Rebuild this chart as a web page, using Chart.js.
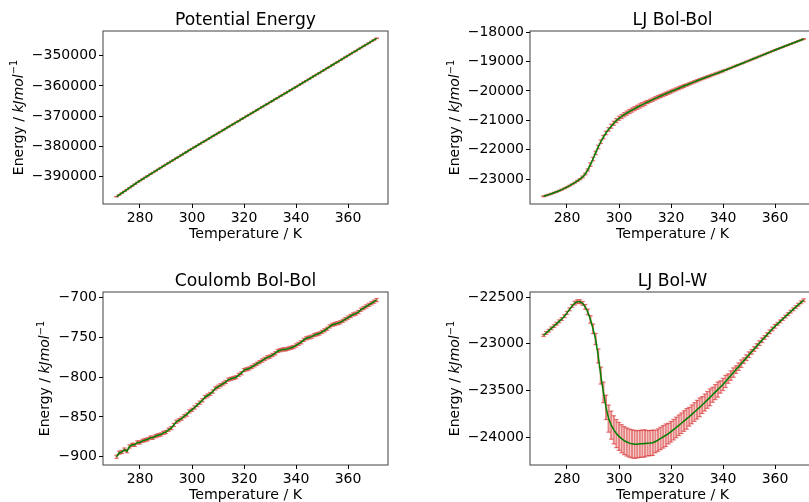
<!DOCTYPE html>
<html>
<head>
<meta charset="utf-8">
<script src="https://cdn.jsdelivr.net/npm/chart.js@4"></script>
<style>
  html, body { margin: 0; padding: 0; width: 809px; height: 502px; overflow: hidden; background: #fff; }
  canvas { position: absolute; }
</style>
</head>
<body>
<canvas id="peChart" width="400" height="250" style="left:0px;top:0px"></canvas>
<canvas id="ljbbChart" width="400" height="250" style="left:427px;top:0px"></canvas>
<canvas id="coulChart" width="400" height="250" style="left:0px;top:261px"></canvas>
<canvas id="ljbwChart" width="400" height="250" style="left:427px;top:261px"></canvas>
<script>
// Temperatures (K)
const temps = [
  271, 272, 273, 274, 275, 276, 277, 278, 279, 280,
  281, 282, 283, 284, 285, 286, 287, 288, 289, 290,
  291, 292, 293, 294, 295, 296, 297, 298, 299, 300,
  301, 302, 303, 304, 305, 306, 307, 308, 309, 310,
  311, 312, 313, 314, 315, 316, 317, 318, 319, 320,
  321, 322, 323, 324, 325, 326, 327, 328, 329, 330,
  331, 332, 333, 334, 335, 336, 337, 338, 339, 340,
  341, 342, 343, 344, 345, 346, 347, 348, 349, 350,
  351, 352, 353, 354, 355, 356, 357, 358, 359, 360,
  361, 362, 363, 364, 365, 366, 367, 368, 369, 370, 371
];

// Potential Energy
const peMean = [
  -396600, -396010, -395420, -394830, -394240, -393650, -393060, -392470, -391880, -391300,
  -390770, -390230, -389700, -389160, -388630, -388090, -387560, -387020, -386490, -385950,
  -385430, -384900, -384380, -383850, -383330, -382800, -382280, -381750, -381230, -380700,
  -380190, -379680, -379170, -378660, -378150, -377640, -377130, -376620, -376110, -375600,
  -375090, -374580, -374070, -373560, -373050, -372540, -372030, -371520, -371010, -370500,
  -369990, -369480, -368970, -368460, -367950, -367440, -366930, -366420, -365910, -365400,
  -364890, -364380, -363870, -363360, -362850, -362340, -361830, -361320, -360810, -360300,
  -359790, -359270, -358760, -358240, -357730, -357210, -356700, -356180, -355670, -355150,
  -354630, -354110, -353590, -353070, -352550, -352030, -351510, -350990, -350470, -349950,
  -349430, -348910, -348400, -347880, -347360, -346840, -346320, -345810, -345290, -344770, -344250
];
const peErr = [
  50, 50, 50, 50, 50, 50, 50, 50, 50, 50,
  50, 50, 50, 50, 50, 50, 50, 50, 50, 50,
  50, 50, 50, 50, 50, 50, 50, 50, 50, 50,
  50, 50, 50, 50, 50, 50, 50, 50, 50, 50,
  50, 50, 50, 50, 50, 50, 50, 50, 50, 50,
  50, 50, 50, 50, 50, 50, 50, 50, 50, 50,
  50, 50, 50, 50, 50, 50, 50, 50, 50, 50,
  50, 50, 50, 50, 50, 50, 50, 50, 50, 50,
  50, 50, 50, 50, 50, 50, 50, 50, 50, 50,
  50, 50, 50, 50, 50, 50, 50, 50, 50, 50, 50
];

// LJ Bol-Bol
const ljbbMean = [
  -23590, -23562, -23533, -23502, -23470, -23436, -23400, -23362, -23320, -23275,
  -23228, -23178, -23124, -23066, -23005, -22930, -22830, -22690, -22510, -22320,
  -22110, -21910, -21730, -21570, -21430, -21310, -21200, -21100, -21010, -20930,
  -20870, -20810, -20755, -20700, -20650, -20602, -20556, -20510, -20465, -20420,
  -20377, -20335, -20294, -20252, -20210, -20172, -20134, -20096, -20058, -20020,
  -19982, -19944, -19906, -19868, -19832, -19796, -19760, -19724, -19688, -19652,
  -19618, -19584, -19550, -19516, -19484, -19452, -19418, -19386, -19352, -19320,
  -19284, -19249, -19213, -19178, -19142, -19107, -19071, -19036, -19000, -18965,
  -18929, -18893, -18857, -18821, -18785, -18749, -18713, -18677, -18640, -18604,
  -18570, -18536, -18502, -18468, -18434, -18400, -18366, -18332, -18298, -18264, -18230
];
const ljbbErr = [
  15, 15, 15, 15, 15, 15, 15, 15, 15, 15,
  15, 15, 15, 20, 20, 30, 30, 35, 60, 60,
  60, 60, 60, 60, 60, 60, 70, 70, 70, 70,
  70, 70, 70, 70, 70, 70, 70, 70, 70, 70,
  55, 55, 55, 55, 55, 55, 55, 55, 55, 55,
  50, 50, 50, 50, 50, 40, 40, 40, 40, 40,
  35, 35, 35, 35, 35, 30, 30, 30, 30, 30,
  20, 20, 20, 20, 20, 15, 15, 15, 15, 15,
  15, 15, 15, 15, 15, 15, 15, 15, 15, 15,
  15, 15, 15, 15, 15, 15, 15, 15, 15, 15, 15
];

// Coulomb Bol-Bol
const coulMean = [
  -900, -895, -894, -891, -893, -887, -885, -885, -882, -882,
  -880, -879, -878, -876, -876, -874, -873, -872, -870, -869,
  -866, -864, -860, -856, -854, -852, -849, -847, -843, -841,
  -838, -835, -832, -829, -825, -823, -821, -818, -814, -812,
  -810, -808, -806, -803, -802, -801, -800, -797, -795, -791,
  -790, -789, -787, -785, -783, -781, -779, -777, -775, -774,
  -772, -770, -767, -766, -765, -765, -764, -763, -762, -760,
  -758, -756, -753, -751, -750, -749, -747, -746, -745, -743,
  -741, -739, -736, -734, -733, -732, -731, -729, -727, -725,
  -723, -721, -720, -718, -715, -713, -711, -709, -707, -705, -703
];
const coulErr = [
  2, 2, 2, 2, 2, 2, 2, 2, 2, 2,
  2, 2, 2, 2, 2, 2, 2, 2, 2, 2,
  2, 2, 2, 2, 2, 2, 2, 2, 2, 2,
  2, 2, 2, 2, 2, 2, 2, 2, 2, 2,
  2, 2, 2, 2, 2, 2, 2, 2, 2, 2,
  2, 2, 2, 2, 2, 2, 2, 2, 2, 2,
  2, 2, 2, 2, 2, 2, 2, 2, 2, 2,
  2, 2, 2, 2, 2, 2, 2, 2, 2, 2,
  2, 2, 2, 2, 2, 2, 2, 2, 2, 2,
  2, 2, 2, 2, 2, 2, 2, 2, 2, 2, 2
];

// LJ Bol-W
const ljbwMean = [
  -22910, -22885, -22860, -22835, -22810, -22785, -22760, -22735, -22705, -22670,
  -22632, -22595, -22565, -22550, -22550, -22568, -22605, -22660, -22740, -22840,
  -22950, -23130, -23340, -23520, -23680, -23800, -23870, -23920, -23960, -23990,
  -24015, -24035, -24050, -24062, -24070, -24075, -24075, -24070, -24068, -24065,
  -24063, -24062, -24058, -24045, -24030, -24012, -23995, -23978, -23960, -23940,
  -23918, -23895, -23872, -23850, -23826, -23803, -23780, -23755, -23730, -23705,
  -23680, -23655, -23628, -23600, -23573, -23545, -23517, -23490, -23462, -23435,
  -23403, -23372, -23340, -23308, -23276, -23245, -23213, -23181, -23149, -23117,
  -23086, -23055, -23024, -22993, -22962, -22932, -22902, -22872, -22842, -22813,
  -22787, -22761, -22735, -22709, -22683, -22657, -22632, -22607, -22582, -22557, -22535
];
const ljbwErr = [
  12, 15, 15, 15, 15, 15, 15, 15, 15, 15,
  15, 15, 20, 20, 20, 20, 25, 30, 40, 50,
  60, 75, 90, 110, 130, 145, 150, 150, 150, 150,
  150, 150, 150, 150, 150, 150, 145, 145, 145, 145,
  135, 135, 135, 120, 120, 120, 120, 120, 110, 110,
  110, 110, 110, 110, 110, 110, 100, 100, 100, 100,
  100, 90, 90, 90, 90, 80, 80, 80, 65, 65,
  65, 50, 50, 50, 40, 40, 40, 30, 30, 30,
  25, 25, 25, 25, 25, 20, 20, 20, 20, 20,
  15, 15, 15, 15, 15, 15, 15, 15, 15, 15, 15
];

// Tick labels
const xTicks = [280, 300, 320, 340, 360];
const peTicks = [-390000, -380000, -370000, -360000, -350000];
const ljbbTicks = [-23000, -22000, -21000, -20000, -19000, -18000];
const coulTicks = [-900, -850, -800, -750, -700];
const ljbwTicks = [-24000, -23500, -23000, -22500];

const FONT = '"DejaVu Sans", sans-serif';
const errColor = 'rgba(215, 50, 50, 0.6)';

// Draws the full box around the plot area
const framePlugin = {
  id: 'frame',
  afterDatasetsDraw(chart) {
    const { ctx, chartArea } = chart;
    ctx.save();
    ctx.strokeStyle = 'rgba(0, 0, 0, 0.75)';
    ctx.lineWidth = 1;
    ctx.strokeRect(chartArea.left, chartArea.top, chartArea.right - chartArea.left, chartArea.bottom - chartArea.top);
    ctx.restore();
  }
};

// Y axis label with italic unit and superscript
const yLabelPlugin = {
  id: 'ylab',
  afterDraw(chart, args, opts) {
    const { ctx, chartArea } = chart;
    const cy = (chartArea.top + chartArea.bottom) / 2;
    const parts = [
      { t: 'Energy / ', f: '14px ' + FONT, dy: 0 },
      { t: 'kJmol', f: 'italic 14px ' + FONT, dy: 0 },
      { t: '\u22121', f: '9.8px ' + FONT, dy: -5.5 }
    ];
    ctx.save();
    ctx.translate(opts.x, cy);
    ctx.rotate(-Math.PI / 2);
    let total = 0;
    parts.forEach((p) => {
      ctx.font = p.f;
      p.w = ctx.measureText(p.t).width;
      total += p.w;
    });
    let x = -total / 2;
    ctx.fillStyle = '#000';
    ctx.textBaseline = 'alphabetic';
    parts.forEach((p) => {
      ctx.font = p.f;
      ctx.fillText(p.t, x, p.dy);
      x += p.w;
    });
    ctx.restore();
  }
};

function makeChart(id, title, mean, err, yTicks, yMin, yMax, labelX) {
  const line = temps.map((t, i) => ({ x: t, y: mean[i] }));
  const bars = temps.map((t, i) => ({ x: t, y: [mean[i] - err[i], mean[i] + err[i]] }));
  const caps = [];
  temps.forEach((t, i) => {
    caps.push({ x: t, y: mean[i] - err[i] });
    caps.push({ x: t, y: mean[i] + err[i] });
  });

  return new Chart(document.getElementById(id), {
    type: 'line',
    data: {
      datasets: [
        {
          type: 'line',
          data: line,
          borderColor: '#008000',
          borderWidth: 1.5,
          pointRadius: 0,
          fill: false,
          order: 0,
        },
        {
          type: 'scatter',
          data: caps,
          pointStyle: 'line',
          pointRadius: 2.3,
          borderColor: errColor,
          borderWidth: 1.2,
          order: 1,
        },
        {
          type: 'bar',
          data: bars,
          backgroundColor: errColor,
          borderWidth: 0,
          barThickness: 1.4,
          order: 2,
        },
      ],
    },
    options: {
      responsive: false,
      animation: false,
      events: [],
      layout: { padding: { left: 0, right: 12, top: 0, bottom: 0 } },
      plugins: {
        legend: { display: false },
        tooltip: { enabled: false },
        title: {
          display: true,
          text: title,
          fullSize: false,
          color: '#000',
          font: { family: FONT, size: 17.2, weight: 'normal', lineHeight: 1.2 },
          padding: { top: 10.3, bottom: 0.06 },
        },
        ylab: { x: labelX },
      },
      scales: {
        x: {
          type: 'linear',
          min: 265.77,
          max: 375.38,
          offset: false,
          afterBuildTicks: (scale) => { scale.ticks = xTicks.map((v) => ({ value: v })); },
          afterFit: (scale) => { scale.height = 46; },
          grid: { drawOnChartArea: false, drawTicks: true, tickLength: 4, color: '#000', offset: false },
          border: { display: false },
          ticks: {
            color: '#000',
            padding: 2,
            maxRotation: 0,
            font: { family: FONT, size: 14 },
            callback: (v) => String(v),
          },
          title: {
            display: true,
            text: 'Temperature / K',
            color: '#000',
            font: { family: FONT, size: 14.2 },
            padding: { top: 0, bottom: 7 },
          },
        },
        y: {
          type: 'linear',
          min: yMin,
          max: yMax,
          afterBuildTicks: (scale) => { scale.ticks = yTicks.map((v) => ({ value: v })); },
          afterFit: (scale) => { scale.width = 103; },
          grid: { drawOnChartArea: false, drawTicks: true, tickLength: 4, color: '#000' },
          border: { display: false },
          ticks: {
            color: '#000',
            padding: 2,
            font: { family: FONT, size: 14 },
            callback: (v) => String(v).replace('-', '\u2212'),
          },
        },
      },
    },
    plugins: [framePlugin, yLabelPlugin],
  });
}

makeChart('peChart', 'Potential Energy', peMean, peErr, peTicks, -399025, -341835, 22.7);
makeChart('ljbbChart', 'LJ Bol-Bol', ljbbMean, ljbbErr, ljbbTicks, -23852, -17956, 32.3);
makeChart('coulChart', 'Coulomb Bol-Bol', coulMean, coulErr, coulTicks, -910.4, -692.8, 49.3);
makeChart('ljbwChart', 'LJ Bol-W', ljbwMean, ljbwErr, ljbwTicks, -24296, -22446.5, 32.3);
</script>
</body>
</html>
